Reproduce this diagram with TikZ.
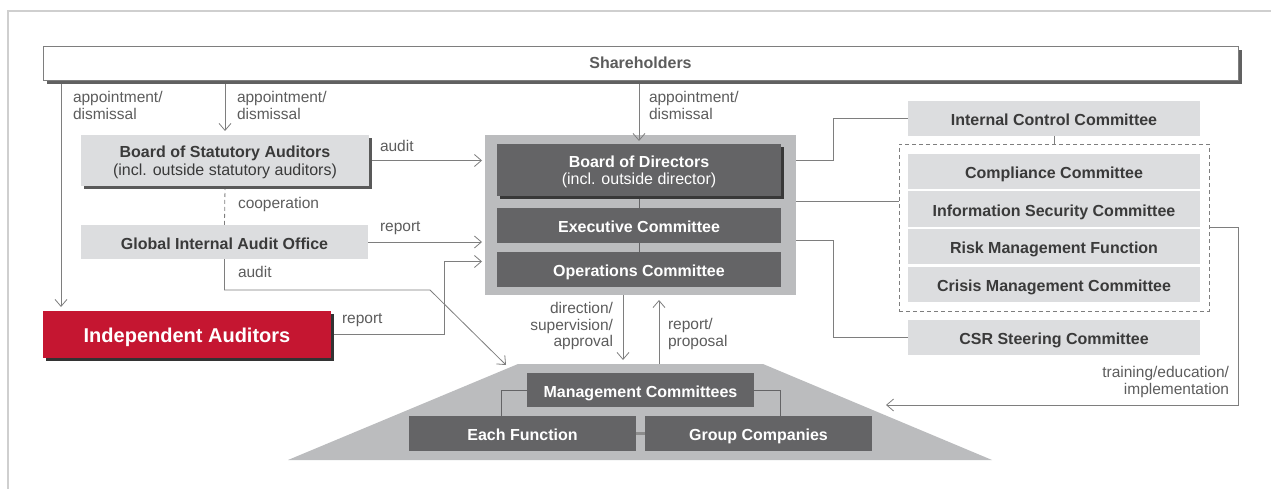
\documentclass[tikz,border=0pt]{standalone}
\usepackage{fontspec}
\setmainfont{Liberation Sans}
\usetikzlibrary{arrows.meta,shadows}
\definecolor{boxlight}{HTML}{DCDDDF}
\definecolor{boxdark}{HTML}{646466}
\definecolor{panelgray}{HTML}{BBBCBE}
\definecolor{linegray}{HTML}{7E7E7E}
\definecolor{labelgray}{HTML}{5C5C5C}
\definecolor{textdark}{HTML}{3A3A3A}
\definecolor{auditred}{HTML}{C51631}
\definecolor{framegray}{HTML}{CFCFCF}
\pgfdeclarelayer{back}
\pgfdeclarelayer{mid}
\pgfsetlayers{back,mid,main}
\begin{document}
\begin{tikzpicture}[x=1pt,y=-1pt,
  every node/.style={inner sep=0pt, outer sep=0pt},
  boxfont/.style={font=\fontsize{16}{17.5}\selectfont\bfseries},
  oneline/.style={text height=14pt, text depth=0pt},
  twoline/.style={text depth=-2.5pt},
  lightbox/.style={boxfont, fill=boxlight, text=textdark, align=center, anchor=north west},
  darkbox/.style={boxfont, fill=boxdark, text=white, align=center, anchor=north west},
  shade/.style={drop shadow={shadow xshift=3pt, shadow yshift=-3pt, fill=#1, opacity=1}},
  lbl/.style={text=labelgray, font=\fontsize{15.5}{16.8}\selectfont},
  conn/.style={draw=linegray, line width=0.8pt},
  arr/.style={conn, -{Straight Barb[length=7pt,width=12pt]}},
]
\useasboundingbox (0,0) rectangle (1271,489);

% page frame (top and left edges)
\draw[framegray, line width=1.5pt] (8,489) -- (8,11) -- (1271,11);

% ---------- boxes ----------
\node[boxfont, oneline, text height=11.5pt, draw=linegray, line width=0.8pt, fill=white, text=labelgray,
      minimum width=1195pt, minimum height=34pt, anchor=north west,
      drop shadow={shadow xshift=4pt, shadow yshift=-4pt, fill=black!62, opacity=1}]
      (sh) at (43,46) {Shareholders};

\node[lightbox, twoline, shade=black!65, minimum width=288pt, minimum height=51pt]
      (bsa) at (81,135) {Board of Statutory Auditors\\\mdseries(incl. outside statutory auditors)};
\node[lightbox, oneline, minimum width=287pt, minimum height=34pt]
      (giao) at (81,225) {Global Internal Audit Office};
\node[font=\fontsize{20}{22}\selectfont\bfseries, text height=16.5pt, text depth=0pt,
      fill=auditred, text=white,
      minimum width=288pt, minimum height=47pt, anchor=north west, shade=black!80]
      (ia) at (43,311) {Independent Auditors};

\begin{pgfonlayer}{back}
  \node[fill=panelgray, minimum width=311pt, minimum height=160pt, anchor=north west]
        (panel) at (485,135) {};
  \fill[panelgray] (518,364) coordinate (trtl) -- (763,364) coordinate (trtr)
        -- (992,460) coordinate (trbr) -- (288,460) coordinate (trbl) -- cycle;
\end{pgfonlayer}

\node[darkbox, twoline, shade=black!78, minimum width=284pt, minimum height=52pt]
      (bod) at (497,144) {Board of Directors\\\mdseries(incl. outside director)};
\node[darkbox, oneline, minimum width=284pt, minimum height=35pt]
      (exec) at (497,208) {Executive Committee};
\node[darkbox, oneline, minimum width=284pt, minimum height=35pt]
      (ops) at (497,252) {Operations Committee};

\node[lightbox, oneline, minimum width=292pt, minimum height=35pt]
      (icc) at (908,101) {Internal Control Committee};
\node[draw=linegray, line width=0.8pt, dash pattern=on 4pt off 3pt,
      minimum width=310pt, minimum height=167pt, anchor=north west]
      (dashbox) at (899,144) {};
\node[lightbox, oneline, minimum width=292pt, minimum height=35pt]
      (comp) at (908,154) {Compliance Committee};
\node[lightbox, oneline, minimum width=292pt, minimum height=35pt]
      (isc) at (908,191.5) {Information Security Committee};
\node[lightbox, oneline, minimum width=292pt, minimum height=35pt]
      (rmf) at (908,229) {Risk Management Function};
\node[lightbox, oneline, minimum width=292pt, minimum height=35pt]
      (cmc) at (908,267) {Crisis Management Committee};
\node[lightbox, oneline, minimum width=292pt, minimum height=35pt]
      (csr) at (908,320) {CSR Steering Committee};

\node[darkbox, oneline, minimum width=227pt, minimum height=34pt]
      (mgmt) at (527,373) {Management Committees};
\node[darkbox, oneline, minimum width=227pt, minimum height=35pt]
      (ef) at (409,416) {Each Function};
\node[darkbox, oneline, minimum width=227pt, minimum height=35pt]
      (gc) at (645,416) {Group Companies};

% ---------- helper points ----------
\coordinate (shA) at ([xshift=18pt]sh.south west);
\coordinate (opsW) at ([yshift=8pt]ops.west);
\coordinate (bodR) at ([yshift=10pt]bod.east);
\coordinate (execR) at ([yshift=-14.5pt]exec.east);
\coordinate (gapR) at (0,201);
\coordinate (auditend) at (506,365);
\coordinate (trainend) at (886,405);
\coordinate (dnA) at ([xshift=-17.5pt]panel.south);
\coordinate (upA) at ([xshift=18.5pt]panel.south);
\coordinate (efT) at ([xshift=92pt]ef.north west);
\coordinate (gcT) at ([xshift=-92pt]gc.north east);

% ---------- connectors ----------
\begin{pgfonlayer}{mid}
  \draw[arr, shorten >=4pt] (shA) -- (shA |- ia.north);
  \draw[arr, shorten >=4pt] (sh.south -| bsa.north) -- (bsa.north);
  \draw[arr, shorten >=3pt] (sh.south -| bod.north) -- (bod.north);
  \draw[arr, shorten >=3pt] (bsa.east) -- (bsa.east -| panel.west);
  \draw[conn, dash pattern=on 4pt off 3pt] (bsa.south) -- (giao.north);
  \draw[arr, shorten >=3pt] (giao.east) -- (giao.east -| panel.west);
  \draw[arr] (giao.south) |- (430,290) -- (auditend);
  \draw[arr, shorten >=3pt] (ia.east) -- ++(113,0) |- (opsW -| panel.west);
  \draw[conn] (bodR -| panel.east) -- ++(37,0) |- (icc.west);
  \draw[conn] (gapR -| panel.east) -- (gapR -| dashbox.west);
  \draw[conn] (execR -| panel.east) -- ++(37,0) |- (csr.west);
  \draw[conn] (icc.south) -- (icc.south |- dashbox.north);
  \draw[arr] (dashbox.east) -- ++(29,0) |- (trainend);
  \draw[conn, draw=boxdark] (bod.south) -- (exec.north);
  \draw[conn, draw=boxdark] (exec.south) -- (ops.north);
  \draw[arr, shorten >=4pt] (dnA) -- (dnA |- trtl);
  \draw[arr, shorten >=5pt] (upA |- trtl) -- (upA);
  \draw[conn, draw=boxdark] (mgmt.west) -| (efT);
  \draw[conn, draw=boxdark] (mgmt.east) -| (gcT);
  \draw[draw=black!45, line width=2.5pt] (ef.east) -- (gc.west);
\end{pgfonlayer}

% ---------- labels ----------
\node[lbl, align=left, anchor=west] (l1) at (73,105.5) {appointment/\\dismissal};
\node[lbl, align=left, anchor=west] (l2) at (237,105.5) {appointment/\\dismissal};
\node[lbl, align=left, anchor=west] (l3) at (649,105.5) {appointment/\\dismissal};
\node[lbl, anchor=west] (l4) at (380,146) {audit};
\node[lbl, anchor=west] (l5) at (238,204) {cooperation};
\node[lbl, anchor=west] (l6) at (380,228) {report};
\node[lbl, anchor=west] (l7) at (238,272) {audit};
\node[lbl, anchor=west] (l8) at (342,320) {report};
\node[lbl, align=right, anchor=east] (l9) at (613,326) {direction/\\supervision/\\approval};
\node[lbl, align=left, anchor=west] (l10) at (668,334) {report/\\proposal};
\node[lbl, align=right, anchor=east] (l11) at (1229,382) {training/education/\\implementation};
\end{tikzpicture}
\end{document}
